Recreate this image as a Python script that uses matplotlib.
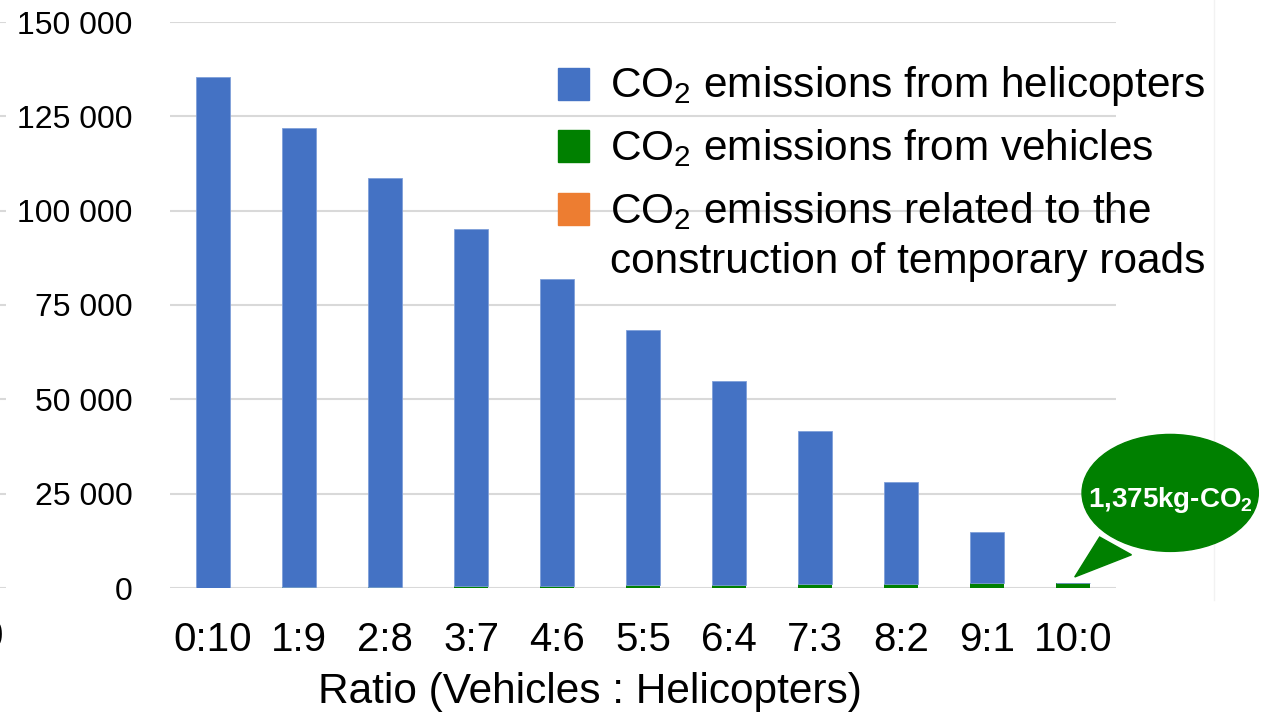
import matplotlib
matplotlib.use("Agg")
import matplotlib.pyplot as plt
import matplotlib.patches as mpatches
import numpy as np

plt.rcParams.update({
    "font.family": ["Liberation Sans", "DejaVu Sans"],
    "mathtext.fontset": "custom",
    "mathtext.rm": "Liberation Sans",
    "mathtext.it": "Liberation Sans",
    "mathtext.bf": "Liberation Sans:bold",
})

# ── data ─────────────────────────────────────────────
ratios = ["0:10", "1:9", "2:8", "3:7", "4:6", "5:5",
          "6:4", "7:3", "8:2", "9:1", "10:0"]
heli = [135400, 121860, 108320, 94780, 81240, 67700,
        54160, 40620, 27080, 13540, 0]
vehicles = [0, 138, 275, 413, 550, 688, 825, 963, 1100, 1238, 1375]
roads = [0, 0, 0, 0, 0, 0, 0, 0, 0, 0, 0]
yticks = [0, 25000, 50000, 75000, 100000, 125000, 150000]
series_labels = ["CO$_2$ emissions from helicopters",
                 "CO$_2$ emissions from vehicles",
                 "CO$_2$ emissions related to the",
                 "construction of temporary roads"]
callout = "1,375kg-CO$_\\mathbf{2}$"

BLUE, GREEN, ORANGE = "#4472C4", "#008000", "#ED7D31"
GRID = "#D9D9D9"

W, H = 1262, 716
fig = plt.figure(figsize=(W / 100, H / 100), dpi=100)
ax = fig.add_axes([170 / W, 1 - 588 / H, 946 / W, 566 / H])

x = np.arange(len(ratios))
heli = np.array(heli); vehicles = np.array(vehicles); roads = np.array(roads)
bw = 0.40
# vehicles sit at the bottom of each stack, helicopters on top
ax.bar(x, vehicles, width=bw, color=GREEN, linewidth=0, zorder=3)
ax.bar(x, roads, width=bw, bottom=vehicles, color=ORANGE, linewidth=0, zorder=3)
ax.bar(x, heli, width=bw, bottom=vehicles + roads, color=BLUE,
       edgecolor="#7F9FD9", linewidth=0.6, zorder=3)

ax.set_xlim(-0.5, len(ratios) - 0.5)
ax.set_ylim(0, 150000)
ax.set_yticks(yticks)
ax.set_yticklabels([f"{v:,}".replace(",", " ") for v in yticks], fontsize=23)
ax.set_xticks(x)
ax.set_xticklabels(ratios, fontsize=29)
ax.tick_params(axis="both", length=0)
ax.tick_params(axis="y", pad=27)
ax.tick_params(axis="x", pad=24)
ax.grid(axis="y", color=GRID, linewidth=1.5, zorder=0)
for s in ax.spines.values():
    s.set_visible(False)

ax.set_xlabel("Ratio (Vehicles : Helicopters)", fontsize=30.5)
ax.xaxis.set_label_coords((590 - 170) / 946, -0.184)
ax.xaxis.label.set_va("center")

# ── legend (drawn by hand so the 3rd swatch sits on the first line) ──
def fx(px):
    return px / W

def fy(py):
    return 1 - py / H

swatches = [(84, BLUE), (146, GREEN), (209, ORANGE)]
for cy, col in swatches:
    fig.add_artist(mpatches.Rectangle((fx(558), fy(cy + 15.5)), 31 / W, 31 / H,
                                      transform=fig.transFigure, color=col,
                                      zorder=5))
for base, lbl in zip([97, 160, 223, 273], series_labels):
    fig.text(fx(610), fy(base), lbl, fontsize=30.5, ha="left", va="baseline",
             zorder=5)

# ── speech bubble ────────────────────────────────────
tip_x, tip_y = x[-1] + 0.02, vehicles[-1] + 1540
ell = mpatches.Ellipse((11.13, 25200), 2.05, 31000, color=GREEN,
                       clip_on=False, zorder=6)
tail = mpatches.Polygon([(10.31, 13500), (10.68, 8800), (tip_x, tip_y)],
                        closed=True, color=GREEN, clip_on=False, zorder=6)
ax.add_patch(ell)
ax.add_patch(tail)
ax.text(11.13, 23200, callout, color="white", fontsize=20, weight="bold",
        ha="center", va="center", zorder=7, clip_on=False)

# ── fragments of the neighbouring slide content ──────
left = fig.add_axes([0, 1 - 588 / H, 6 / W, 566 / H])
left.set_xlim(0, 1); left.set_ylim(0, 150000)
for v in yticks:
    left.axhline(v, color=GRID, linewidth=1.5)
left.axis("off")
fig.text(3 / W, 1 - 637 / H, "0", fontsize=29, ha="right", va="center")
fig.add_artist(plt.Line2D([fx(1214), fx(1214)], [fy(600), 1],
                          color="#F2F2F2", linewidth=1, zorder=-1))

fig.savefig("out.png", dpi=100, facecolor="white")
